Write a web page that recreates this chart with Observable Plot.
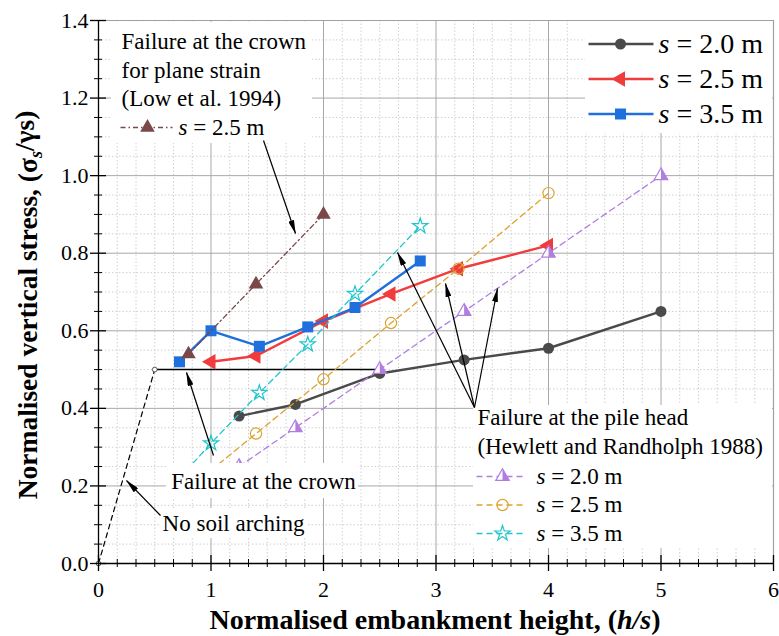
<!DOCTYPE html>
<html>
<head>
<meta charset="utf-8">
<script src="https://cdn.jsdelivr.net/npm/d3@7"></script>
<script src="https://cdn.jsdelivr.net/npm/@observablehq/plot@0.6"></script>
<style>
  body { margin: 0; background: #fff; }
  #chart { width: 779px; height: 636px; }
  #chart svg text { font-family: "Liberation Serif", "Times New Roman", serif; }
</style>
</head>
<body>
<div id="chart"></div>
<script>
// Normalised embankment height h/s for each pile spacing
const hs20 = [1.25, 1.75, 2.5, 3.25, 4.0, 5.0];
const hs25 = [1.0, 1.4, 2.0, 2.6, 3.2, 4.0];
const hs35 = [0.72, 1.0, 1.43, 1.86, 2.28, 2.86];
const hsLow = [0.8, 1.4, 2.0];

// Normalised vertical stress from the numerical model
const fe20 = [0.38, 0.41, 0.49, 0.525, 0.555, 0.65];
const fe25 = [0.52, 0.535, 0.625, 0.695, 0.76, 0.82];
const fe35 = [0.52, 0.60, 0.56, 0.61, 0.66, 0.78];

// Low et al. (1994), failure at the crown, plane strain
const low25 = [0.54, 0.72, 0.90];

// Hewlett and Randolph (1988), failure at the pile head
const hr20 = [0.25, 0.35, 0.50, 0.65, 0.80, 1.00];
const hr25 = [0.24, 0.335, 0.475, 0.62, 0.76, 0.955];
const hr35 = [0.22, 0.31, 0.44, 0.565, 0.695, 0.87];

// Reference lines: no soil arching, and failure at the crown
const noArchH = [0, 0.5];
const noArchS = [0, 0.5];
const crownH = [0.5, 2.5];
const crownS = [0.5, 0.5];

// Axis ticks
const xTicks = [0, 1, 2, 3, 4, 5, 6];
const yTicks = [0, 0.2, 0.4, 0.6, 0.8, 1.0, 1.2, 1.4];
const xMinor = d3.range(0, 37).map(i => i / 6).filter(v => Math.abs(v - Math.round(v)) > 1e-6);
const yMinor = d3.range(0, 29).map(i => i * 0.05).filter(v => Math.abs(v / 0.2 - Math.round(v / 0.2)) > 1e-6);

const W = 779, H = 636;
const M = {top: 20, right: 6, bottom: 73, left: 98};
const xMax = 6, yMax = 1.4;
// place annotations given in pixel positions
const toX = p => (p - M.left) / (W - M.left - M.right) * xMax;
const toY = p => (H - M.bottom - p) / (H - M.top - M.bottom) * yMax;

const sqrt3 = Math.sqrt(3);
const triLeft = {
  draw(ctx, size) {
    const y = -Math.sqrt(size / (sqrt3 * 3));
    ctx.moveTo(y * 2, 0);
    ctx.lineTo(-y, -sqrt3 * y);
    ctx.lineTo(-y, sqrt3 * y);
    ctx.closePath();
  }
};
const triRightHalf = {
  draw(ctx, size) {
    const y = -Math.sqrt(size / (sqrt3 * 3));
    ctx.moveTo(0, y * 2);
    ctx.lineTo(-sqrt3 * y, -y);
    ctx.lineTo(0, -y);
    ctx.closePath();
  }
};

const rows = (xs, ys) => xs.map((x, i) => ({x, y: ys[i]}));

const series = [
  {xs: hs20, ys: fe20, color: "#4a4a4a", lw: 2.4, dash: null, legend: "fe", row: 0, label: "s = 2.0 m",
   dots: [{symbol: "circle", r: 5.5, fill: "#4a4a4a"}]},
  {xs: hs25, ys: fe25, color: "#f03c3c", lw: 2.4, dash: null, legend: "fe", row: 1, label: "s = 2.5 m",
   dots: [{symbol: triLeft, r: 5.8, fill: "#f03c3c"}]},
  {xs: hs35, ys: fe35, color: "#1f6fdc", lw: 2.4, dash: null, legend: "fe", row: 2, label: "s = 3.5 m",
   dots: [{symbol: "square", r: 6.2, fill: "#1f6fdc"}]},
  {xs: hsLow, ys: low25, color: "#7a4848", lw: 1.3, dash: "5,3,1.5,3", legend: "low", row: 0, label: "s = 2.5 m",
   dots: [{symbol: "triangle", r: 5.4, fill: "#7a4848"}]},
  {xs: hs20, ys: hr20, color: "#b07ee0", lw: 1.3, dash: "6,4", legend: "hr", row: 0, label: "s = 2.0 m",
   dots: [{symbol: "triangle", r: 5, fill: "white", stroke: "#b07ee0"}, {symbol: triRightHalf, r: 5, fill: "#b07ee0"}]},
  {xs: hs25, ys: hr25, color: "#dca22c", lw: 1.3, dash: "6,4", legend: "hr", row: 1, label: "s = 2.5 m",
   dots: [{symbol: "circle", r: 5.6, fill: "none", stroke: "#dca22c"}]},
  {xs: hs35, ys: hr35, color: "#20c6cc", lw: 1.3, dash: "6,4", legend: "hr", row: 2, label: "s = 3.5 m",
   dots: [{symbol: "star", r: 4.8, fill: "none", stroke: "#20c6cc"}]}
];

// legend layouts (pixels)
const legends = {
  fe:  {x1: 588, x2: 653, mx: 620, tx: 658, rows: [43.5, 78.5, 113.5], size: 28},
  low: {x1: 120, x2: 172, mx: 147, tx: 178, rows: [127], size: 23},
  hr:  {x1: 476, x2: 522, mx: 502, tx: 536, rows: [476, 504.5, 533], size: 23}
};

// white panels behind labels (pixels)
const panels = [
  {x1: 111, x2: 312, y1: 22, y2: 143},
  {x1: 585, x2: 772, y1: 21, y2: 133},
  {x1: 473, x2: 772, y1: 405, y2: 548},
  {x1: 166, x2: 358, y1: 463, y2: 498},
  {x1: 160, x2: 308, y1: 508, y2: 538}
];

// annotation text (pixels)
const notes = [
  {text: "Failure at the crown", x: 121, y: 41, anchor: "start"},
  {text: "for plane strain", x: 121, y: 70, anchor: "start"},
  {text: "(Low et al. 1994)", x: 121, y: 98.5, anchor: "start"},
  {text: "Failure at the pile head", x: 477, y: 417.5, anchor: "start"},
  {text: "(Hewlett and Randholph 1988)", x: 477, y: 446, anchor: "start"},
  {text: "Failure at the crown", x: 263, y: 481, anchor: "middle"},
  {text: "No soil arching", x: 233, y: 523, anchor: "middle"}
];

// arrows (pixels)
const arrows = [
  {x1: 160, y1: 515, x2: 126, y2: 480},
  {x1: 213, y1: 455, x2: 186, y2: 372},
  {x1: 263, y1: 140, x2: 295, y2: 233},
  {x1: 474, y1: 407, x2: 397, y2: 252},
  {x1: 474, y1: 407, x2: 445, y2: 283},
  {x1: 474, y1: 407, x2: 497, y2: 288}
];

const serif = "Liberation Serif";

const marks = [];
// minor dotted grid
marks.push(Plot.ruleX(xMinor, {stroke: "#c4c4c4", strokeWidth: 0.8, strokeDasharray: "1.5,2"}));
marks.push(Plot.ruleY(yMinor, {stroke: "#c4c4c4", strokeWidth: 0.8, strokeDasharray: "1.5,2"}));
// major grid
marks.push(Plot.ruleX(xTicks.slice(1, -1), {stroke: "#a8a8a8", strokeWidth: 1}));
marks.push(Plot.ruleY(yTicks.slice(1, -1), {stroke: "#a8a8a8", strokeWidth: 1}));

// white panels
marks.push(Plot.rect(panels, {x1: d => toX(d.x1), x2: d => toX(d.x2), y1: d => toY(d.y1), y2: d => toY(d.y2), fill: "white"}));

// reference lines
marks.push(Plot.line(rows(noArchH, noArchS), {x: "x", y: "y", stroke: "black", strokeWidth: 1.2, strokeDasharray: "5,4"}));
marks.push(Plot.line(rows(crownH, crownS), {x: "x", y: "y", stroke: "black", strokeWidth: 1.5}));
marks.push(Plot.dot(rows(noArchH, noArchS), {x: "x", y: "y", r: 2.4, fill: "white", stroke: "#333", strokeWidth: 0.8}));

// data series
for (const s of series) {
  const data = rows(s.xs, s.ys);
  marks.push(Plot.line(data, {x: "x", y: "y", stroke: s.color, strokeWidth: s.lw, strokeDasharray: s.dash}));
  for (const d of s.dots) {
    marks.push(Plot.dot(data, {x: "x", y: "y", symbol: d.symbol, r: d.r, fill: d.fill,
      stroke: d.stroke || "none", strokeWidth: 1.2}));
  }
}

// crown label panel sits over the lower end of the pile-head lines
marks.push(Plot.rect([panels[3]], {x1: d => toX(d.x1), x2: d => toX(d.x2), y1: d => toY(d.y1), y2: d => toY(d.y2), fill: "white"}));

// legends
for (const s of series) {
  const L = legends[s.legend];
  const yy = toY(L.rows[s.row]);
  marks.push(Plot.link([0], {x1: toX(L.x1), x2: toX(L.x2), y1: yy, y2: yy, stroke: s.color, strokeWidth: s.lw, strokeDasharray: s.dash}));
  for (const d of s.dots) {
    marks.push(Plot.dot([0], {x: toX(L.mx), y: yy, symbol: d.symbol, r: d.r, fill: d.fill,
      stroke: d.stroke || "none", strokeWidth: 1.2}));
  }
  marks.push(Plot.text([s.label], {x: toX(L.tx), y: yy, text: d => d, textAnchor: "start",
    fontSize: L.size, fontFamily: serif, fill: "black"}));
}

// notes
for (const n of notes) {
  marks.push(Plot.text([n.text], {x: toX(n.x), y: toY(n.y), text: d => d, textAnchor: n.anchor,
    fontSize: 23, fontFamily: serif, fill: "black"}));
}

// arrows
marks.push(Plot.link(arrows, {x1: d => toX(d.x1), y1: d => toY(d.y1), x2: d => toX(d.x2), y2: d => toY(d.y2),
  stroke: "black", strokeWidth: 1.2}));

// frame
marks.push(Plot.ruleY([yMax], {stroke: "#a0a0a0", strokeWidth: 1.2}));
marks.push(Plot.ruleX([xMax], {stroke: "#a0a0a0", strokeWidth: 1.2}));
marks.push(Plot.ruleY([0], {stroke: "black", strokeWidth: 1.3}));
marks.push(Plot.ruleX([0], {stroke: "black", strokeWidth: 1.3}));

// tick marks crossing the axes
marks.push(Plot.ruleX(xTicks, {y1: 0, y2: 0, insetTop: 8, insetBottom: 8, stroke: "black", strokeWidth: 1.3}));
marks.push(Plot.ruleX(xMinor, {y1: 0, y2: 0, insetTop: 4, insetBottom: 4, stroke: "black", strokeWidth: 1}));
marks.push(Plot.ruleY(yTicks, {x1: 0, x2: 0, insetLeft: 8, insetRight: 8, stroke: "black", strokeWidth: 1.3}));
marks.push(Plot.ruleY(yMinor, {x1: 0, x2: 0, insetLeft: 4, insetRight: 4, stroke: "black", strokeWidth: 1}));

// tick labels
marks.push(Plot.axisX({ticks: xTicks, tickSize: 0, tickPadding: 18, tickFormat: d => String(d),
  fontSize: 22, fontFamily: serif, label: null}));
marks.push(Plot.axisY({ticks: yTicks, tickSize: 0, tickPadding: 10, tickFormat: d3.format(".1f"),
  fontSize: 22, fontFamily: serif, label: null}));

const svg = Plot.plot({
  width: W,
  height: H,
  marginTop: M.top,
  marginRight: M.right,
  marginBottom: M.bottom,
  marginLeft: M.left,
  x: {domain: [0, xMax], axis: null},
  y: {domain: [0, yMax], axis: null},
  style: "font-family: 'Liberation Serif', serif; font-size: 22px; color: black; background: white; overflow: visible;",
  marks
});

const root = d3.select(svg);
root.attr("font-family", "Liberation Serif");

// filled arrowheads for the annotation arrows
const defs = root.append("defs");
defs.append("marker")
  .attr("id", "arrowhead")
  .attr("viewBox", "0 0 14 6")
  .attr("refX", 13.5).attr("refY", 3)
  .attr("markerWidth", 14).attr("markerHeight", 6)
  .attr("markerUnits", "userSpaceOnUse")
  .attr("orient", "auto")
  .append("path").attr("d", "M0,0L14,3L0,6Z").attr("fill", "black");
root.selectAll('g[aria-label="link"]').each(function () {
  const paths = d3.select(this).selectAll("path");
  if (paths.size() === arrows.length) paths.attr("marker-end", "url(#arrowhead)");
});

// italic spacing variable in legend labels
root.selectAll("text").each(function () {
  const m = /^s = (.+)$/.exec(this.textContent);
  if (m) {
    const t = d3.select(this);
    t.text(null);
    t.append("tspan").attr("font-style", "italic").text("s");
    t.append("tspan").text(" = " + m[1]);
  }
});

// axis titles
const xt = root.append("text")
  .attr("x", 435).attr("y", 629)
  .attr("text-anchor", "middle")
  .attr("font-size", 28).attr("font-weight", "bold")
  .attr("fill", "black");
xt.append("tspan").text("Normalised embankment height, (");
xt.append("tspan").attr("font-style", "italic").text("h/s");
xt.append("tspan").text(")");

const yt = root.append("text")
  .attr("transform", "translate(37,305) rotate(-90)")
  .attr("text-anchor", "middle")
  .attr("font-size", 27.5).attr("font-weight", "bold")
  .attr("fill", "black");
yt.append("tspan").text("Normalised vertical stress, (σ");
yt.append("tspan").attr("font-size", 18).attr("dy", "0.3em").attr("font-style", "italic").text("s");
yt.append("tspan").attr("dy", "-0.3em").text("/γs)");

document.getElementById("chart").appendChild(svg);
</script>
</body>
</html>
